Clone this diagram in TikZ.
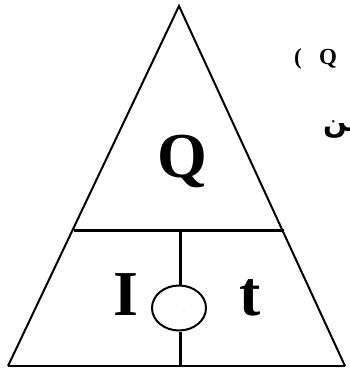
\documentclass[tikz,border=0pt]{standalone}
\usepackage{fontspec}
\setmainfont{Liberation Serif}
\newfontfamily\arabicfont[Script=Arabic]{DejaVu Sans}
\TeXXeTstate=1
\usetikzlibrary{calc,shapes.geometric}
\begin{document}
\begin{tikzpicture}[x=1pt,y=-1pt,
  letter/.style={font=\fontsize{64}{64}\selectfont\bfseries, inner sep=0pt, anchor=base},
  side/.style={line width=2pt},
  bar/.style={line width=3pt},
  note/.style={font=\fontsize{23}{23}\selectfont\bfseries, inner sep=0pt, anchor=base west}]
\useasboundingbox (0,0) rectangle (350,370);
\clip (0,0) rectangle (350,370);
\coordinate (A) at (179,6);
\coordinate (BL) at (8,366);
\coordinate (BR) at (345,366);
\coordinate (HL) at ($(A)!0.623!(BL)$);
\coordinate (HR) at ($(A)!0.623!(BR)$);
\coordinate (HM) at (180,229);
\coordinate (BM) at (180,366);
\draw[side, line join=miter] (BL) -- (A) -- (BR);
\draw[side] (BL) -- (BR);
\draw[bar] ($(HL)+(2,0)$) -- ($(HR)+(2,0)$);
\node[draw, ellipse, line width=2pt, minimum width=54pt, minimum height=45pt, inner sep=0pt] (E) at (179,308) {};
\draw[bar] (HM) -- (E.north -| HM);
\draw[bar] (E.south -| BM) -- (BM);
\node[font=\fontsize{4}{4}\selectfont, text=gray, inner sep=0pt] (dots) at (184,312) {..};
\node[letter] (Q) at (182,177) {Q};
\node[letter] (I) at (126,315) {I};
\node[letter] (t) at (250,315) {t};
\node[note] (paren) at (294,64) {(\hspace{0.75em}Q};
\node[font=\fontsize{28}{28}\selectfont\arabicfont\bfseries, inner sep=0pt, anchor=base west] (ar) at (323,131) {\beginR سن\endR};
\end{tikzpicture}
\end{document}
